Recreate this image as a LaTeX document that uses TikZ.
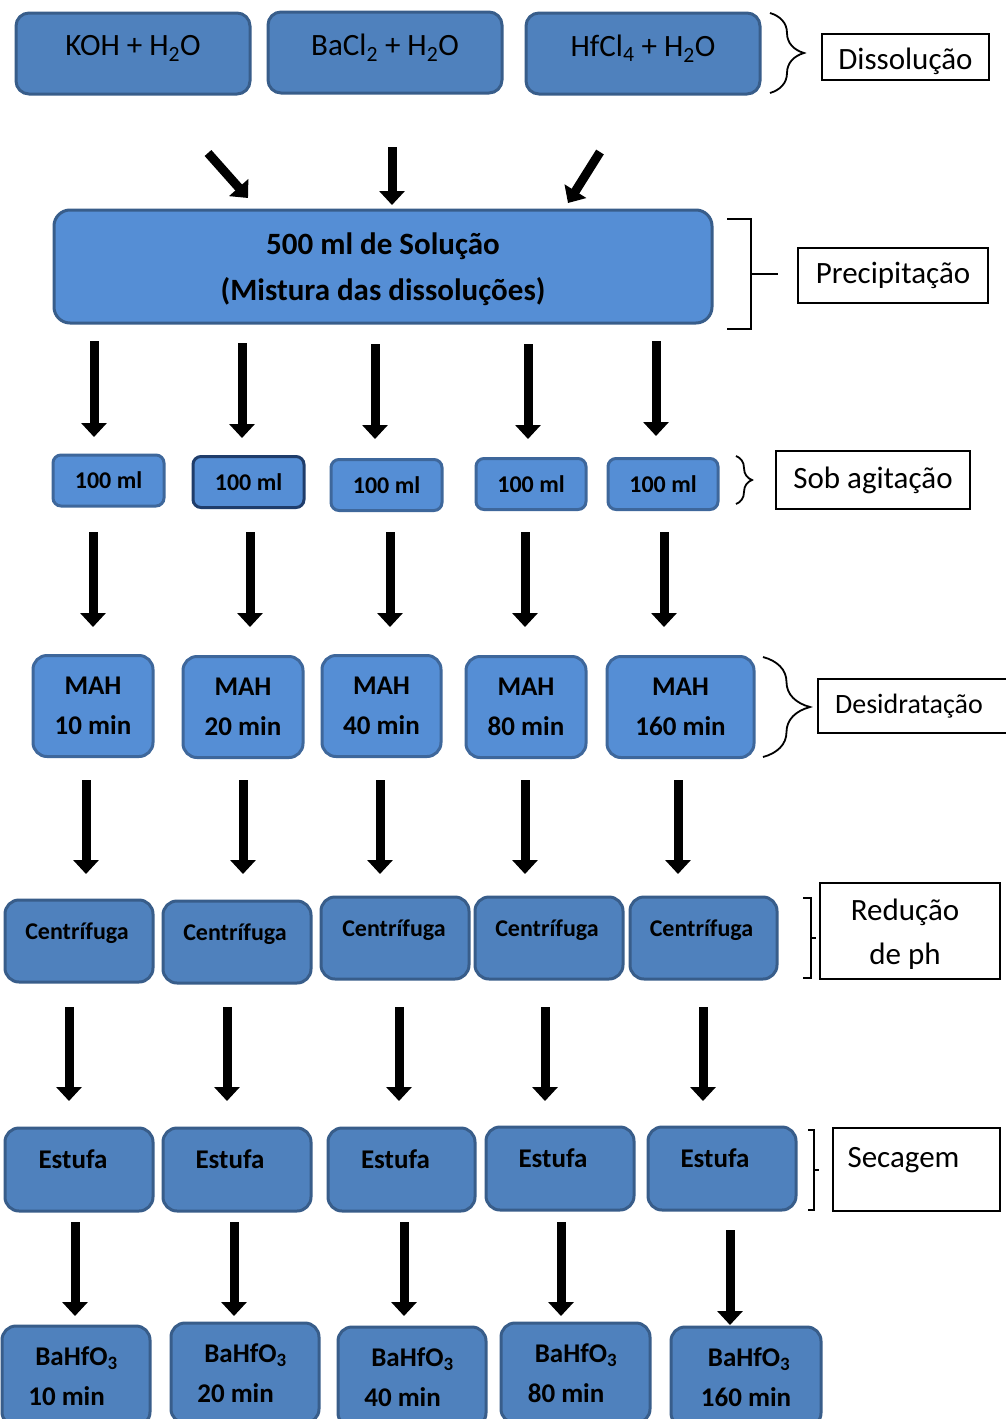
\documentclass[tikz,border=0pt]{standalone}
\usepackage{fontspec}
\setmainfont{Carlito}
\usetikzlibrary{arrows.meta,decorations.pathreplacing}
\definecolor{dfill}{HTML}{4F81BD}
\definecolor{dborder}{HTML}{385D8A}
\definecolor{lfill}{HTML}{558ED5}
\definecolor{lborder}{HTML}{3E679B}
\definecolor{navy}{HTML}{1F3D6B}
\tikzset{
  boxbase/.style={line width=3pt, inner sep=0pt, text=black, align=center},
  dbox/.style={boxbase, draw=dborder, fill=dfill, rounded corners=13pt},
  lbox/.style={boxbase, draw=lborder, fill=lfill, rounded corners=13pt},
  labbox/.style={draw=black, line width=1.4pt, fill=white, inner sep=0pt, align=center,
     font=\fontsize{31}{44}\selectfont},
  labtext/.style={font=\fontsize{31}{44}\selectfont, align=center, inner sep=0pt},
  arr/.style={line width=9pt, -{Triangle[width=25pt,length=14pt]}},
  brk/.style={line width=1.8pt, black},
  topfont/.style={font=\fontsize{31}{40}\selectfont},
  bigfont/.style={font=\fontsize{31}{46}\selectfont\bfseries, align=center, inner sep=0pt},
  mlfont/.style={font=\fontsize{24}{30}\selectfont\bfseries},
  mahfont/.style={font=\fontsize{27}{40}\selectfont\bfseries},
  bafont/.style={font=\fontsize{27}{40}\selectfont\bfseries, align=left, inner sep=0pt},
  cfont/.style={font=\fontsize{24}{30}\selectfont\bfseries},
  efont/.style={font=\fontsize{27}{34}\selectfont\bfseries},
}
\begin{document}
\begin{tikzpicture}[x=1pt,y=-1pt]
\useasboundingbox (0,0) rectangle (1006,1419);
\clip (0,0) rectangle (1006,1419);
\fill[white] (0,0) rectangle (1006,1419);

% top row
\node[dbox, minimum width=234pt, minimum height=81pt,
  label={[topfont, yshift=5pt]center:KOH + H\textsubscript{2}O}] (k1) at (133,53.5) {};
\node[dbox, minimum width=234pt, minimum height=81pt,
  label={[topfont, yshift=5pt]center:BaCl\textsubscript{2} + H\textsubscript{2}O}] (k2) at (385,52.5) {};
\node[dbox, minimum width=234pt, minimum height=81pt,
  label={[topfont, yshift=5pt]center:HfCl\textsubscript{4} + H\textsubscript{2}O}] (k3) at (643,53.5) {};
\draw[brk, decorate, decoration={brace, amplitude=34pt}] (770,13) -- (770,93);
\node[labbox, minimum width=167pt, minimum height=46pt,
  label={[labtext, yshift=-4pt]center:Dissolução}] (l1) at (905.5,57) {};

% 500 ml
\node[lbox, draw=dborder, rounded corners=16pt, minimum width=658pt, minimum height=113pt,
  label={[bigfont, yshift=-3pt]center:500 ml de Solução\\(Mistura das dissoluções)}] (sol) at (383,266.5) {};
\draw[brk] (727,219) -- (751,219) -- (751,329) -- (727,329);
\draw[brk] (751,274) -- (778,274);
\node[labbox, minimum width=190pt, minimum height=55pt] (l2) at (893,275.5) {Precipitação};

% 100 ml
\node[lbox, rounded corners=8pt, minimum width=111pt, minimum height=51pt, mlfont] (m1) at (108.5,480.5) {100 ml};
\node[lbox, draw=navy, rounded corners=8pt, minimum width=111pt, minimum height=51pt, mlfont] (m2) at (248.5,482) {100 ml};
\node[lbox, rounded corners=8pt, minimum width=111pt, minimum height=51pt, mlfont] (m3) at (386.5,485) {100 ml};
\node[lbox, rounded corners=8pt, minimum width=110pt, minimum height=51pt, mlfont] (m4) at (531,484) {100 ml};
\node[lbox, rounded corners=8pt, minimum width=110pt, minimum height=51pt, mlfont] (m5) at (663,484) {100 ml};
\draw[brk, decorate, decoration={brace, amplitude=16pt}] (736,456) -- (736,504);
\node[labbox, minimum width=194pt, minimum height=58pt] (l3) at (873,480) {Sob agitação};

% MAH
\node[lbox, rounded corners=14pt, minimum width=120pt, minimum height=101pt, mahfont] (h1) at (93,706) {MAH\\10 min};
\node[lbox, rounded corners=14pt, minimum width=120pt, minimum height=101pt, mahfont] (h2) at (243,707) {MAH\\20 min};
\node[lbox, rounded corners=14pt, minimum width=119pt, minimum height=101pt, mahfont] (h3) at (381.5,706) {MAH\\40 min};
\node[lbox, rounded corners=14pt, minimum width=120pt, minimum height=101pt, mahfont] (h4) at (526,707) {MAH\\80 min};
\node[lbox, rounded corners=14pt, minimum width=147pt, minimum height=101pt, mahfont] (h5) at (680.5,707) {MAH\\160 min};
\draw[brk, decorate, decoration={brace, amplitude=47pt}] (763,657) -- (763,757);
\node[labbox, minimum width=192pt, minimum height=54pt, font=\fontsize{28}{34}\selectfont] (l4) at (914,706) {\hspace*{-4pt}Desidratação\hspace*{6pt}};

% Centrifuga
\node[dbox, rounded corners=14pt, minimum width=148pt, minimum height=82pt,
  label={[cfont, yshift=8pt, xshift=-2pt]center:Centrífuga}] (c1) at (79,941) {};
\node[dbox, rounded corners=14pt, minimum width=148pt, minimum height=82pt,
  label={[cfont, yshift=8pt, xshift=-2pt]center:Centrífuga}] (c2) at (237,942) {};
\node[dbox, rounded corners=14pt, minimum width=148pt, minimum height=82pt,
  label={[cfont, yshift=8pt, xshift=-1pt]center:Centrífuga}] (c3) at (395,938) {};
\node[dbox, rounded corners=14pt, minimum width=148pt, minimum height=82pt,
  label={[cfont, yshift=8pt, xshift=-2pt]center:Centrífuga}] (c4) at (549,938) {};
\node[dbox, rounded corners=14pt, minimum width=147pt, minimum height=82pt,
  label={[cfont, yshift=8pt, xshift=-2pt]center:Centrífuga}] (c5) at (703.5,938) {};
\draw[brk] (803,898) -- (811,898) -- (811,978) -- (803,978);
\draw[brk] (811,938) -- (816,938);
\node[labbox, minimum width=180pt, minimum height=96pt,
  label={[labtext, yshift=-3pt, xshift=-5pt]center:Redução\\de ph}] (l5) at (910,931) {};

% Estufa
\node[dbox, rounded corners=14pt, minimum width=148pt, minimum height=83pt,
  label={[efont, yshift=10pt, xshift=-6pt]center:Estufa}] (e1) at (79,1169.5) {};
\node[dbox, rounded corners=14pt, minimum width=148pt, minimum height=83pt,
  label={[efont, yshift=10pt, xshift=-7pt]center:Estufa}] (e2) at (237,1169.5) {};
\node[dbox, rounded corners=14pt, minimum width=147pt, minimum height=83pt,
  label={[efont, yshift=10pt, xshift=-6pt]center:Estufa}] (e3) at (401.5,1169.5) {};
\node[dbox, rounded corners=14pt, minimum width=148pt, minimum height=83pt,
  label={[efont, yshift=10pt, xshift=-7pt]center:Estufa}] (e4) at (560,1168.5) {};
\node[dbox, rounded corners=14pt, minimum width=148pt, minimum height=83pt,
  label={[efont, yshift=10pt, xshift=-7pt]center:Estufa}] (e5) at (722,1168.5) {};
\draw[brk] (808,1130) -- (814,1130) -- (814,1210) -- (808,1210);
\draw[brk] (814,1170) -- (819,1170);
\node[labbox, minimum width=167pt, minimum height=83pt,
  label={[labtext, yshift=9pt, xshift=-13pt]center:Secagem}] (l6) at (916.5,1169.5) {};

% BaHfO3
\node[dbox, rounded corners=14pt, minimum width=148pt, minimum height=100pt,
  label={[bafont, xshift=-3pt]center:\hspace*{7pt}BaHfO\textsubscript{3}\\10 min}] (b1) at (76,1376) {};
\node[dbox, rounded corners=14pt, minimum width=148pt, minimum height=100pt,
  label={[bafont, xshift=-3pt]center:\hspace*{7pt}BaHfO\textsubscript{3}\\20 min}] (b2) at (245,1373) {};
\node[dbox, rounded corners=14pt, minimum width=148pt, minimum height=100pt,
  label={[bafont, xshift=-3pt]center:\hspace*{7pt}BaHfO\textsubscript{3}\\40 min}] (b3) at (412,1377) {};
\node[dbox, rounded corners=14pt, minimum width=149pt, minimum height=100pt,
  label={[bafont, xshift=-3pt]center:\hspace*{7pt}BaHfO\textsubscript{3}\\80 min}] (b4) at (575.5,1373) {};
\node[dbox, rounded corners=14pt, minimum width=150pt, minimum height=100pt,
  label={[bafont]center:\hspace*{7pt}BaHfO\textsubscript{3}\\160 min}] (b5) at (746,1377) {};

% arrows
\foreach \n/\xa/\ya/\xb/\yb in {
  a1/208/153/248/198, a2/392/147/392/205, a3/600/152/568/203,
  b1/94/341/94/437, b2/242/343/242/438, b3/375/344/375/439, b4/528/344/528/439, b5/656/341/656/436,
  c1/93/532/93/627, c2/250/532/250/627, c3/390/532/390/627, c4/525/532/525/627, c5/664/532/664/627,
  d1/86/780/86/874, d2/243/780/243/874, d3/380/780/380/874, d4/525/780/525/874, d5/678/780/678/874,
  e1/69/1007/69/1101, e2/227/1007/227/1101, e3/399/1007/399/1101, e4/545/1007/545/1101, e5/703/1007/703/1101,
  f1/75/1222/75/1316, f2/234/1222/234/1316, f3/404/1222/404/1316, f4/561/1222/561/1316, f5/730/1230/730/1325}
{
  \coordinate (s\n) at (\xa,\ya);
  \coordinate (t\n) at (\xb,\yb);
  \draw[arr] (s\n) -- (t\n);
}
\end{tikzpicture}
\end{document}
